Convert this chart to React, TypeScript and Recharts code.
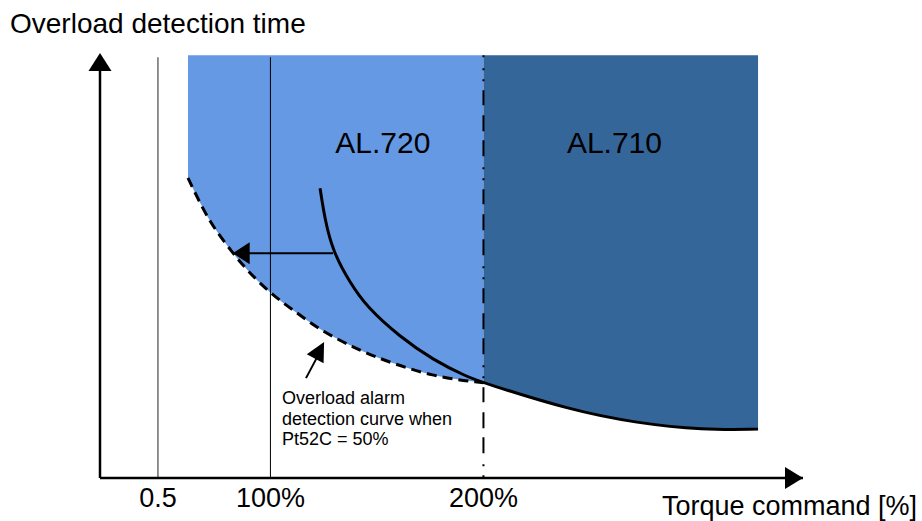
import React from 'react';
import { ComposedChart, Area, Line, XAxis, YAxis, ReferenceLine, ReferenceDot } from 'recharts';

// torque command [%] vs. detection time (arbitrary units, 0..100)
const alarmTorque = [123.3, 125.6, 129.4, 137.4, 145.3, 160.8, 176.3, 192.3, 200, 240.6, 272.1, 303.1, 328.9];
const alarmTime = [68.2, 60.7, 53.2, 45.9, 40.2, 33.2, 27.8, 23.8, 22.4, 16.0, 12.9, 11.3, 11.5];

// curve when Pt52C = 50%
const reducedTorque = [61.3, 66.9, 73.0, 82.4, 89.0, 99.8, 112.5, 124.7, 138.8, 151.4, 176.3, 200];
const reducedTime = [70.6, 64.7, 59.1, 52.9, 48.9, 43.5, 38.8, 34.4, 30.8, 28.0, 23.8, 22.4];

const regionTop = 99.5;
const xTicks = [47.2, 100, 200];
const xTickLabels = ['0.5', '100%', '200%'];
const noteLines = ['Overload alarm', 'detection curve when', 'Pt52C = 50%'];

const FONT = '"Liberation Sans", Arial, sans-serif';

const alarmData = alarmTorque.map((t, i) => ({ t, time: alarmTime[i] }));
const reducedData = reducedTorque.map((t, i) => ({ t, time: reducedTime[i] }));
const al710Band = alarmData.filter((d) => d.t >= 200).map((d) => ({ t: d.t, band: [d.time, regionTop] }));
const al720Band = reducedData.map((d) => ({ t: d.t, band: [d.time, regionTop] }));

// arrowhead drawn at the dot position, pointing along `angle` (degrees, screen space)
const arrowHead = (len: number, wide: number, angle: number) => (p: any) => (
  <polygon
    points={`0,0 ${-len},${-wide / 2} ${-len},${wide / 2}`}
    fill="#000"
    transform={`translate(${p.cx},${p.cy}) rotate(${angle})`}
  />
);

const textAt = (lines: string[], size: number, anchor: string, dx = 0, dy = 0, lh = 0) => (p: any) => (
  <text x={p.cx + dx} y={p.cy + dy} fontSize={size} textAnchor={anchor} fill="#000" fontFamily={FONT}>
    {lines.map((s, i) => (
      <tspan key={i} x={p.cx + dx} dy={i === 0 ? 0 : lh}>{s}</tspan>
    ))}
  </text>
);

export default function App() {
  return (
    <div style={{ position: 'absolute', left: 0, top: 0, width: 922, height: 521, background: '#fff' }}>
      <ComposedChart width={922} height={521} margin={{ top: 53, right: 119, bottom: 0, left: 100 }} style={{ fontFamily: FONT }}>
        <XAxis
          type="number"
          dataKey="t"
          domain={[20, 350]}
          allowDataOverflow
          ticks={xTicks}
          interval={0}
          tickFormatter={(v, i) => xTickLabels[i]}
          height={43}
          tickLine={false}
          tickMargin={4}
          axisLine={{ stroke: '#000', strokeWidth: 2.5 }}
          tick={{ fill: '#000', fontSize: 27, fontFamily: FONT }}
        />
        <YAxis type="number" domain={[0, 100]} allowDataOverflow width={0} tick={false} tickLine={false} axisLine={false} />

        <Area data={al720Band} dataKey="band" type="basis" fill="#6699e4" fillOpacity={1} stroke="none" isAnimationActive={false} />
        <Area data={al710Band} dataKey="band" type="basis" fill="#346699" fillOpacity={1} stroke="none" isAnimationActive={false} />

        <ReferenceLine segment={[{ x: 20, y: 0 }, { x: 20, y: 96 }]} stroke="#000" strokeWidth={2.5} />
        <ReferenceLine segment={[{ x: 47.2, y: 0 }, { x: 47.2, y: 99 }]} stroke="#555" strokeWidth={1.3} />
        <ReferenceLine segment={[{ x: 100, y: 0 }, { x: 100, y: 99 }]} stroke="#000" strokeWidth={1} />
        <ReferenceLine
          segment={[{ x: 200, y: regionTop }, { x: 200, y: 0 }]}
          stroke="#000"
          strokeWidth={2}
          strokeDasharray="2 9 2 9 15 10 16 9 16 11"
          strokeDashoffset={86}
        />

        <Line data={reducedData} dataKey="time" type="basis" stroke="#000" strokeWidth={3} strokeDasharray="10 6" dot={false} isAnimationActive={false} />
        <Line data={alarmData} dataKey="time" type="basis" stroke="#000" strokeWidth={3} dot={false} isAnimationActive={false} />

        {/* shift arrow toward the reduced curve */}
        <ReferenceLine segment={[{ x: 129.4, y: 52.9 }, { x: 88, y: 52.9 }]} stroke="#000" strokeWidth={2} />
        <ReferenceDot x={82.3} y={52.9} r={0} ifOverflow="visible" shape={arrowHead(17, 22, 180)} />
        {/* note pointer */}
        <ReferenceLine segment={[{ x: 116.7, y: 23.5 }, { x: 122, y: 28.5 }]} stroke="#000" strokeWidth={2} />
        <ReferenceDot x={125.2} y={32} r={0} ifOverflow="visible" shape={arrowHead(19, 19, -62)} />

        {/* axis arrowheads */}
        <ReferenceDot x={20} y={100} r={0} ifOverflow="visible" shape={arrowHead(18, 23, -90)} />
        <ReferenceDot x={350} y={0} r={0} ifOverflow="visible" shape={arrowHead(18, 22, 0)} />

        <ReferenceDot x={152.8} y={76.5} r={0} ifOverflow="visible" shape={textAt(['AL.720'], 30, 'middle')} />
        <ReferenceDot x={261.5} y={76.5} r={0} ifOverflow="visible" shape={textAt(['AL.710'], 30, 'middle')} />
        <ReferenceDot x={105.4} y={17.4} r={0} ifOverflow="visible" shape={textAt(noteLines, 18, 'start', 0, 0, 20.5)} />
        <ReferenceDot x={20} y={100} r={0} ifOverflow="visible" shape={textAt(['Overload detection time'], 28, 'start', -90, -20)} />
        <ReferenceDot x={350} y={0} r={0} ifOverflow="visible" shape={textAt(['Torque command [%]'], 27, 'end', 114, 37)} />
      </ComposedChart>
    </div>
  );
}
